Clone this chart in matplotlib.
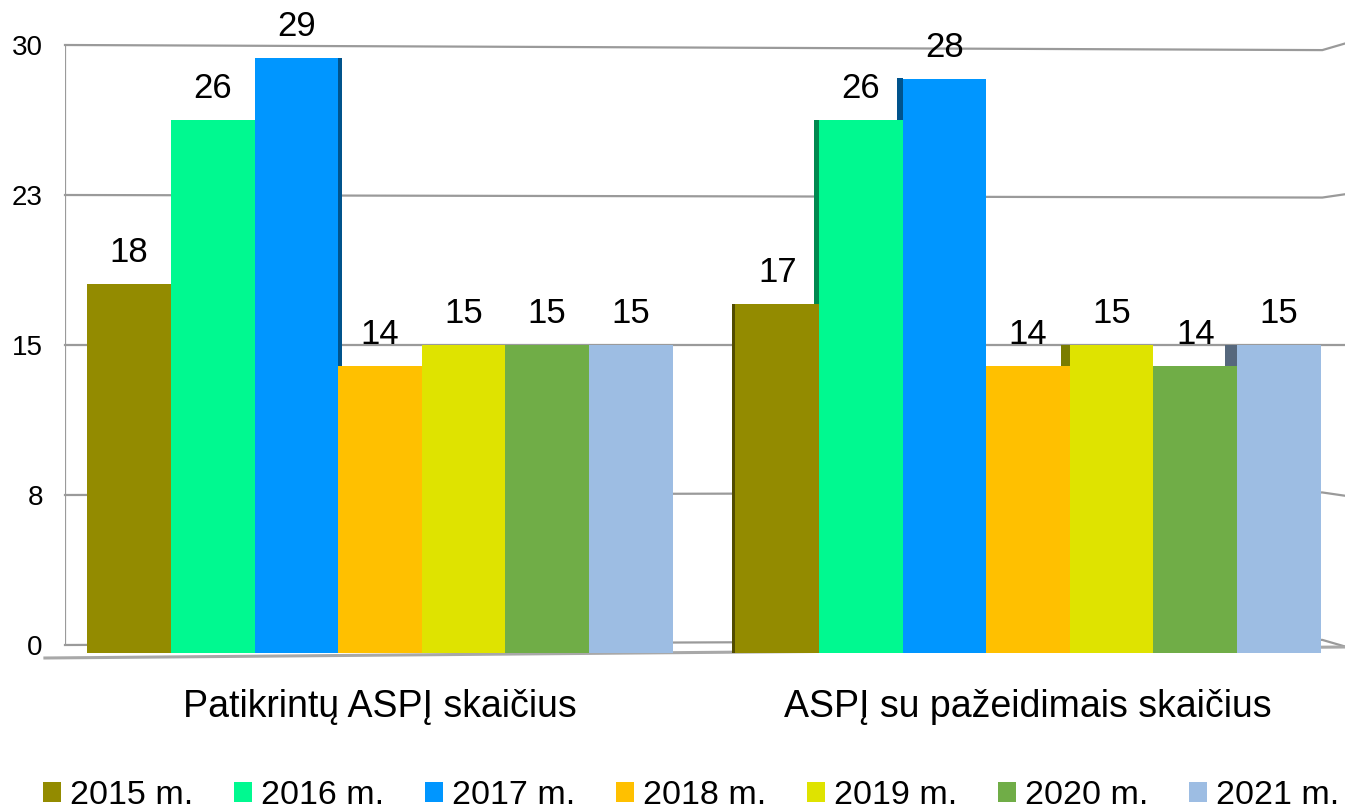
import numpy as np
import matplotlib
matplotlib.use('Agg')
import matplotlib.pyplot as plt
from matplotlib.patches import Patch
from matplotlib.colors import to_rgb

# ---- data ----
categories = ['Patikrintų ASPĮ skaičius', 'ASPĮ su pažeidimais skaičius']
years = ['2015 m.', '2016 m.', '2017 m.', '2018 m.', '2019 m.', '2020 m.', '2021 m.']
checked = [18, 26, 29, 14, 15, 15, 15]
with_violations = [17, 26, 28, 14, 15, 14, 15]
y_ticks = [0, 7.5, 15, 22.5, 30]
y_tick_labels = ['0', '8', '15', '23', '30']

colors = ['#938B00', '#00F990', '#0096FF', '#FFC000', '#DFE300', '#70AD47', '#9DBDE3']

plt.rcParams['font.family'] = ['Liberation Sans', 'DejaVu Sans']

fig = plt.figure(figsize=(13.45, 8.11), dpi=100)
ax = fig.add_axes([65 / 1345, 166 / 811, 1280 / 1345, 600 / 811])

values = np.array([checked, with_violations])
n_years = len(years)
group_x = np.arange(len(categories))
w = 0.129
x_lo, x_hi = -0.486, 1.489
ax.set_xlim(x_lo, x_hi)
ax.set_ylim(0, 30)


def front(v):
    # bars stand in front of the back wall, so they look a bit larger
    return 15 + (v - 15) * 1.025


# back wall: slanted gridlines and left edge
grid_c = '#9a9a9a'
x_kink = 1.454
for v in y_ticks:
    ax.plot([x_lo, x_kink, x_hi],
            [v, 15 + (v - 15) * 0.983, 15 + (v - 15) * 1.005],
            color=grid_c, lw=1.6, zorder=1, clip_on=False)
ax.plot([x_lo, x_lo], [0, 30], color=grid_c, lw=1.6, zorder=1)
# front floor edge
ax.plot([x_lo - 0.031, x_hi], [-0.65, -0.1], color='#a8a8a8', lw=2.2,
        zorder=1, clip_on=False)

# bars with a hint of 3D side faces
vp = 0.278
depth = 0.018
base = front(0)
for g in group_x:
    vals = [front(v) for v in values[g]]
    for i in range(n_years):
        xc = g + (i - (n_years - 1) / 2) * w
        v = vals[i]
        ax.bar(xc, v - base, bottom=base, width=w, color=colors[i],
               zorder=3, clip_on=False)
        side = tuple(c * 0.55 for c in to_rgb(colors[i]))
        if xc < vp:
            edge = xc + w / 2
            nb = vals[i + 1] if i + 1 < n_years else base
            d = depth * abs(edge - vp)
        else:
            edge = xc - w / 2
            nb = vals[i - 1] if i > 0 else base
            d = -depth * abs(edge - vp)
        if v > nb:
            ax.bar(edge, v - nb, bottom=nb, width=d, align='edge',
                   color=side, zorder=2, clip_on=False)
        ax.annotate(f'{values[g][i]}', (xc, v), xytext=(0, 22.5),
                    textcoords='offset points', ha='center', va='center',
                    fontsize=25, color='black')

ax.set_yticks(y_ticks)
ax.set_yticklabels(y_tick_labels)
ax.set_xticks(group_x)
ax.set_xticklabels(categories)
ax.tick_params(axis='y', length=0, pad=16, labelsize=20)
ax.tick_params(axis='x', length=0, pad=32, labelsize=27)
for s in ax.spines.values():
    s.set_visible(False)

handles = [Patch(facecolor=c) for c in colors]
fig.legend(handles, years, loc='center left', bbox_to_anchor=(43 / 1345, 15 / 811),
           ncol=n_years, frameon=False, fontsize=24.5, handlelength=0.53,
           handleheight=0.53, handletextpad=0.26, columnspacing=1.2,
           borderpad=0, borderaxespad=0)

fig.savefig('out.png', dpi=100, facecolor='white')
